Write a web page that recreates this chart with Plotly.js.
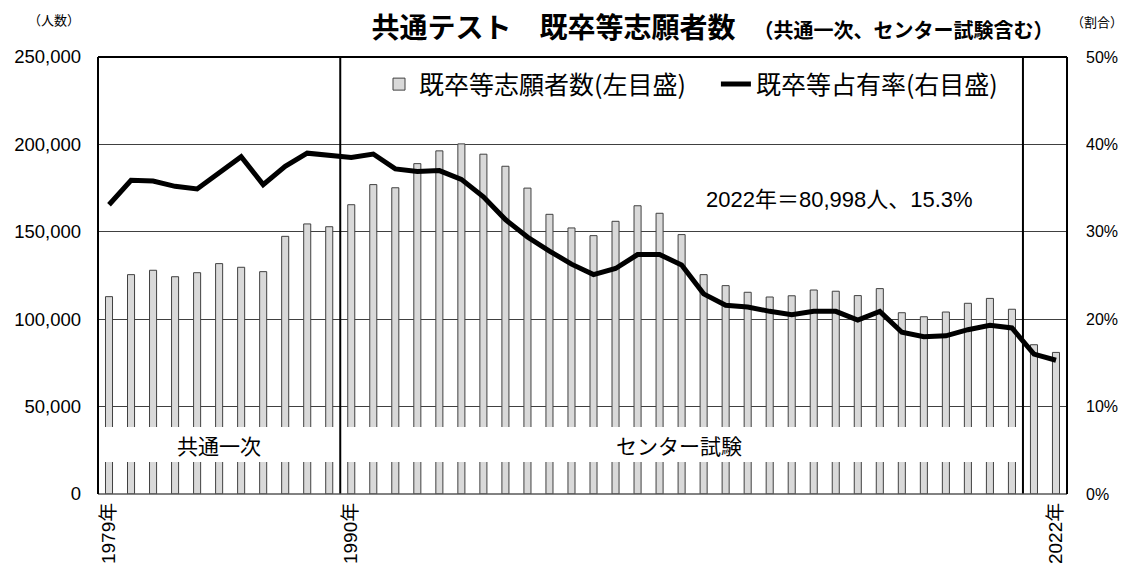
<!DOCTYPE html>
<html>
<head>
<meta charset="utf-8">
<script src="https://cdn.plot.ly/plotly-3.0.1.min.js"></script>
<style>html,body{margin:0;padding:0;background:#fff;} #chart{width:1131px;height:571px;}</style>
</head>
<body>
<div id="chart"></div>
<script>
const years = [1979,1980,1981,1982,1983,1984,1985,1986,1987,1988,1989,
  1990,1991,1992,1993,1994,1995,1996,1997,1998,1999,2000,2001,2002,2003,2004,2005,
  2006,2007,2008,2009,2010,2011,2012,2013,2014,2015,2016,2017,2018,2019,2020,2021,2022];
const applicants = [112900,125500,128000,124300,126600,131800,129700,127200,147400,154500,152900,
  165500,177000,175200,189000,196300,200300,194400,187500,175000,160000,152200,147800,156000,164900,160600,148400,
  125500,119200,115400,112700,113400,116700,116000,113500,117500,103700,101400,104100,109100,111900,105700,85400,80998];
const shareRate = [0.331,0.359,0.358,0.352,0.349,0.367,0.386,0.354,0.375,0.390,0.387,
  0.385,0.389,0.372,0.369,0.370,0.360,0.340,0.314,0.294,0.278,0.263,0.251,0.258,0.274,0.274,0.262,
  0.229,0.216,0.214,0.209,0.205,0.209,0.209,0.199,0.209,0.185,0.180,0.181,0.188,0.193,0.190,0.160,0.153];
const tickYears = [1979,1990,2022];
const tickLabels = ['1979年','1990年','2022年'];
const barName = '既卒等志願者数(左目盛)';
const lineName = '既卒等占有率(右目盛)';
const titleMain = '共通テスト　既卒等志願者数';
const titleSub = '（共通一次、センター試験含む）';
const eraLabels = ['共通一次','センター試験'];
const noteText = '2022年＝80,998人、15.3%';

const FONT = 'Liberation Sans, Arial, Noto Sans CJK JP, sans-serif';
const JFONT = 'Noto Sans CJK JP, sans-serif';

const traces = [
  {type:'bar', x:years, y:applicants, name:barName + '　', width:0.32,
   marker:{color:'#d9d9d9', line:{color:'#404040', width:1}}, yaxis:'y'},
  {type:'scatter', mode:'lines', x:years, y:shareRate, name:lineName,
   line:{color:'#000', width:5}, yaxis:'y2'}
];

const layout = {
  width:1131, height:571,
  margin:{l:98, r:64, t:57, b:77},
  paper_bgcolor:'#fff', plot_bgcolor:'#fff',
  font:{family:FONT, color:'#000', size:16},
  showlegend:true,
  legend:{orientation:'h', x:0.29, xanchor:'left', y:0.99, yanchor:'top',
    font:{family:JFONT, size:25, color:'#000'}, bgcolor:'rgba(0,0,0,0)', traceorder:'normal',
    itemwidth:30},
  title:{text:'<b>'+titleMain+'　<span style="font-size:20px">'+titleSub+'</span></b>',
    x:0.63, xanchor:'center', xref:'container', y:0.95, yanchor:'middle', yref:'container',
    font:{family:JFONT, size:28, color:'#000'}},
  xaxis:{range:[1978.5,2022.5], tickmode:'array', tickvals:tickYears, ticktext:tickLabels,
    tickangle:-90, showgrid:false, zeroline:false, showline:false, ticks:'',
    tickfont:{family:FONT, size:19}, ticklabelstandoff:4},
  yaxis:{range:[0,250000], dtick:50000, tickformat:',d', showgrid:true, gridcolor:'#404040', gridwidth:1,
    zeroline:false, showline:false, ticks:'', tickfont:{family:FONT, size:18.5}, ticklabelstandoff:16},
  yaxis2:{range:[0,0.5], dtick:0.1, tickformat:'.0%', overlaying:'y', side:'right', showgrid:false,
    zeroline:false, showline:false, ticks:'', tickfont:{family:FONT, size:16}, ticklabelstandoff:18},
  bargap:0.5,
  shapes:[
    {type:'rect', xref:'x', yref:'y', x0:1978.5, x1:1989.5, y0:18300, y1:38300, fillcolor:'#fff', line:{width:0}, layer:'above'},
    {type:'rect', xref:'x', yref:'y', x0:1989.5, x1:2020.35, y0:18300, y1:38300, fillcolor:'#fff', line:{width:0}, layer:'above'},
    {type:'line', xref:'x', yref:'paper', x0:1989.5, x1:1989.5, y0:0, y1:1, line:{color:'#000', width:2}, layer:'above'},
    {type:'line', xref:'x', yref:'paper', x0:2020.5, x1:2020.5, y0:0, y1:1, line:{color:'#000', width:2}, layer:'above'},
    {type:'line', xref:'paper', yref:'paper', x0:0, x1:1, y0:0, y1:0, line:{color:'#595959', width:1.5}, layer:'above'},
    {type:'line', xref:'paper', yref:'paper', x0:0, x1:0, y0:0, y1:1, line:{color:'#000', width:2}, layer:'above'},
    {type:'line', xref:'paper', yref:'paper', x0:1, x1:1, y0:0, y1:1, line:{color:'#000', width:2}, layer:'above'},
    {type:'line', xref:'paper', yref:'paper', x0:0, x1:1, y0:1, y1:1, line:{color:'#000', width:2}, layer:'above'}
  ],
  annotations:[
    {text:eraLabels[0], xref:'x', yref:'y', x:1984, y:28300, showarrow:false, font:{family:JFONT, size:21}},
    {text:eraLabels[1], xref:'x', yref:'y', x:2004.9, y:28300, showarrow:false, font:{family:JFONT, size:21}},
    {text:noteText, xref:'paper', yref:'paper', x:(839-98)/969, y:(494-200)/437, showarrow:false,
     xanchor:'center', yanchor:'middle', font:{family:FONT, size:22}},
    {text:'（人数）', xref:'paper', yref:'paper', x:(54-98)/969, y:(494-20)/437, showarrow:false,
     xanchor:'center', yanchor:'middle', font:{family:JFONT, size:13}},
    {text:'（割合）', xref:'paper', yref:'paper', x:(1097-98)/969, y:(494-21)/437, showarrow:false,
     xanchor:'center', yanchor:'middle', font:{family:JFONT, size:13}}
  ]
};

Plotly.newPlot('chart', traces, layout, {staticPlot:true, displayModeBar:false});
</script>
</body>
</html>
